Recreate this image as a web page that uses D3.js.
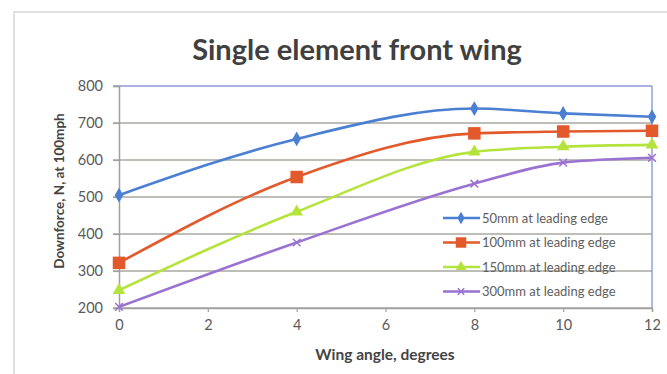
<!DOCTYPE html>
<html><head><meta charset="utf-8">
<script src="https://cdn.jsdelivr.net/npm/d3@7"></script>
<style>body{margin:0;background:#fff}svg{display:block}</style>
</head><body><svg id="c" width="667" height="374"></svg>
<script>
const angles = [0, 4, 8, 10, 12];
const seriesNames = ["50mm at leading edge","100mm at leading edge","150mm at leading edge","300mm at leading edge"];
const s50  = [505, 657, 739, 726, 717];
const s100 = [322, 554, 672, 677, 679];
const s150 = [248, 460, 622, 636, 641];
const s300 = [203, 377, 536, 593, 606];
const xTicks = [0, 2, 4, 6, 8, 10, 12];
const yTicks = [200, 300, 400, 500, 600, 700, 800];
const colors = ["#4a7fd2", "#e2592c", "#b4e43c", "#9a72d2"];
const markers = ["diamond", "square", "triangle", "cross"];
const series = [s50, s100, s150, s300];

const svg = d3.select("#c");
const font = "Lato, 'Open Sans', sans-serif";
// outer frame
svg.append("rect").attr("x",14).attr("y",12).attr("width",680).attr("height",380)
  .attr("fill","none").attr("stroke","#d8d8d8").attr("stroke-width",1.5);

const L=119, R=652, T=86, B=308;
const x = d3.scaleLinear().domain([0,12]).range([L,R]);
const y = d3.scaleLinear().domain([200,800]).range([B,T]);

// gridlines
svg.append("g").selectAll("line").data(yTicks).join("line")
  .attr("x1",L-6).attr("x2",R).attr("y1",d=>y(d)).attr("y2",d=>y(d))
  .attr("stroke",d=>d===800?"#8c98d8":"#a8a8a0").attr("stroke-width",1.6);
// right border
svg.append("line").attr("x1",R).attr("x2",R).attr("y1",T).attr("y2",B)
  .attr("stroke","#8c98d8").attr("stroke-width",1.4);

// axes
const yAxis = d3.axisLeft(y).tickValues(yTicks).tickSize(6).tickPadding(10);
const gy = svg.append("g").attr("transform",`translate(${L},0)`).call(yAxis);
const xAxis = d3.axisBottom(x).tickValues(xTicks).tickSize(4).tickPadding(8);
const gx = svg.append("g").attr("transform",`translate(0,${B})`).call(xAxis);
[gx,gy].forEach(g=>{
  g.select(".domain").attr("stroke","#a0a0a0").attr("stroke-width",1.5);
  g.selectAll(".tick line").attr("stroke","#a0a0a0").attr("stroke-width",1.2);
  g.selectAll("text").attr("fill","#5a5a5a").attr("font-family",font).attr("font-size",14.5);
});

// lines
const line = d3.line().x((d,i)=>x(angles[i])).y(d=>y(d)).curve(d3.curveMonotoneX);
function marker(g, type, cx, cy, color, scale=1){
  if(type==="diamond"){
    g.append("path").attr("d",d3.symbol(d3.symbolDiamond, 64*scale)()).attr("transform",`translate(${cx},${cy})`).attr("fill",color);
  } else if(type==="square"){
    const s=12.5*Math.sqrt(scale);
    g.append("rect").attr("x",cx-s/2).attr("y",cy-s/2).attr("width",s).attr("height",s).attr("fill",color);
  } else if(type==="triangle"){
    g.append("path").attr("d",d3.symbol(d3.symbolTriangle, 70*scale)()).attr("transform",`translate(${cx},${cy})`).attr("fill",color);
  } else {
    g.append("path").attr("d",d3.symbol(d3.symbolX, 40*scale)()).attr("transform",`translate(${cx},${cy})`)
      .attr("fill","none").attr("stroke",color).attr("stroke-width",1.5);
  }
}
series.forEach((vals,k)=>{
  svg.append("path").datum(vals).attr("d",line).attr("fill","none")
    .attr("stroke",colors[k]).attr("stroke-width",2.6).attr("stroke-linejoin","round");
  const g = svg.append("g");
  vals.forEach((v,i)=>marker(g, markers[k], x(angles[i]), y(v), colors[k]));
});

// legend
const lg = svg.append("g");
seriesNames.forEach((n,k)=>{
  const ly = 218 + k*24.5;
  lg.append("line").attr("x1",443).attr("x2",480).attr("y1",ly).attr("y2",ly)
    .attr("stroke",colors[k]).attr("stroke-width",2.6);
  marker(lg, markers[k], 461, ly, colors[k], 0.7);
  lg.append("text").attr("x",482).attr("y",ly+4.5).text(n)
    .attr("font-family",font).attr("font-size",13).attr("fill","#5e5e5e");
});

// title
svg.append("text").attr("x",357).attr("y",60).attr("text-anchor","middle")
  .attr("font-family",font).attr("font-weight","bold").attr("font-size",29)
  .attr("fill","#404040").text("Single element front wing");
// axis titles
svg.append("text").attr("x",385).attr("y",360).attr("text-anchor","middle")
  .attr("font-family",font).attr("font-weight","bold").attr("font-size",15.5)
  .attr("fill","#444").text("Wing angle, degrees");
svg.append("text").attr("transform","translate(64,191) rotate(-90)").attr("text-anchor","middle")
  .attr("font-family",font).attr("font-weight","bold").attr("font-size",13.5)
  .attr("fill","#444").text("Downforce, N, at 100mph");
</script></body></html>
